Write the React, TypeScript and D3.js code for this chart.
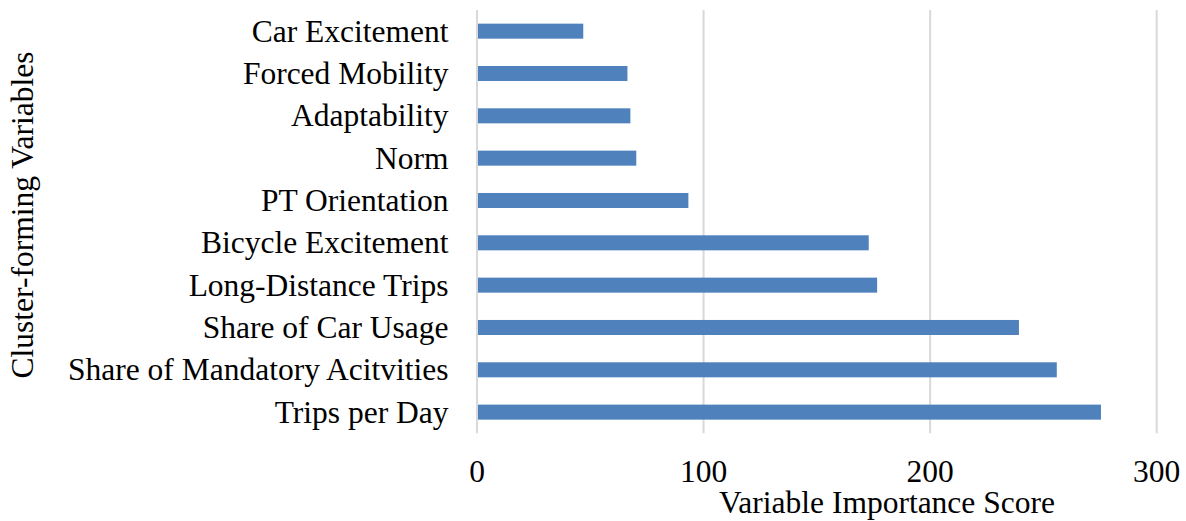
import React from "react";
import * as d3 from "d3";

// Cluster-forming variables, listed top to bottom
const categories = [
  "Car Excitement",
  "Forced Mobility",
  "Adaptability",
  "Norm",
  "PT Orientation",
  "Bicycle Excitement",
  "Long-Distance Trips",
  "Share of Car Usage",
  "Share of Mandatory Acitvities",
  "Trips per Day",
];

// Variable importance score per variable
const scores = [46.9, 66.4, 67.7, 70.3, 93.3, 172.9, 176.6, 239.2, 255.9, 275.4];

const xTicks = [0, 100, 200, 300];

const xTitle = "Variable Importance Score";
const yTitle = "Cluster-forming Variables";

const W = 1186;
const H = 521;
const FONT = "'Liberation Serif', 'Times New Roman', serif";
const FS = 31.5;

export default function App() {
  const x = d3.scaleLinear().domain([0, 300]).range([477, 1156.7]);
  const y = d3
    .scaleBand<string>()
    .domain(categories)
    .range([10, 433.3])
    .paddingInner(0.645)
    .paddingOuter(0.3225);

  const gridTop = 10;
  const gridBottom = 433.3;

  return (
    <svg
      width={W}
      height={H}
      style={{ position: "absolute", left: 0, top: 0, background: "#fff" }}
      fontFamily={FONT}
    >
      {/* vertical gridlines */}
      {xTicks.map((t) => (
        <line
          key={"g" + t}
          x1={x(t)}
          x2={x(t)}
          y1={gridTop}
          y2={gridBottom}
          stroke="#d9d9d9"
          strokeWidth={2}
        />
      ))}

      {/* bars */}
      {categories.map((c, i) => (
        <rect
          key={c}
          x={x(0) + 1}
          y={y(c)}
          width={x(scores[i]) - x(0) - 1}
          height={y.bandwidth()}
          fill="#4f81bd"
        />
      ))}

      {/* category labels */}
      {categories.map((c) => (
        <text
          key={"l" + c}
          x={448.5}
          y={(y(c) as number) + y.bandwidth() / 2}
          dy="0.33em"
          textAnchor="end"
          fontSize={FS}
          fill="#000"
        >
          {c}
        </text>
      ))}

      {/* x tick labels */}
      {xTicks.map((t) => (
        <text
          key={"t" + t}
          x={x(t)}
          y={482}
          textAnchor="middle"
          fontSize={FS}
          fill="#000"
        >
          {t}
        </text>
      ))}

      {/* axis titles */}
      <text x={887} y={513} textAnchor="middle" fontSize={FS} fill="#000">
        {xTitle}
      </text>
      <text
        transform="translate(33,215) rotate(-90)"
        textAnchor="middle"
        fontSize={FS}
        fill="#000"
      >
        {yTitle}
      </text>
    </svg>
  );
}
